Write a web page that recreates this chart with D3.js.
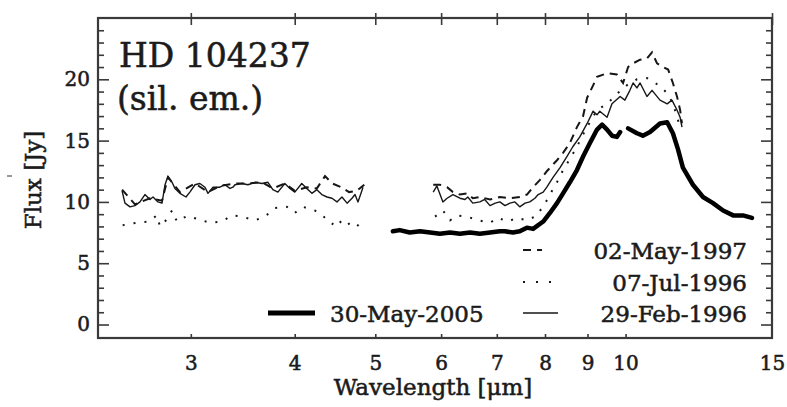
<!DOCTYPE html>
<html>
<head>
<meta charset="utf-8">
<script src="https://cdn.jsdelivr.net/npm/d3@7"></script>
<style>
  html, body { margin: 0; padding: 0; background: #fff; }
  svg { display: block; }
  text { font-family: "DejaVu Serif", "Liberation Serif", serif; fill: #1b1b1b; stroke: #1b1b1b; stroke-width: 0.55px; }
</style>
</head>
<body>
<svg id="chart" width="787" height="407"></svg>
<script>
// ---------------- data ----------------
const xTickValues = [3, 4, 5, 6, 7, 8, 9, 10, 15];
const xTickLabels = ["3", "4", "5", "6", "7", "8", "9", "10", "15"];
const yTickValues = [0, 5, 10, 15, 20];
const yTickLabels = ["0", "5", "10", "15", "20"];
const seriesNames = ["02-May-1997", "07-Jul-1996", "29-Feb-1996", "30-May-2005"];

// 29-Feb-1996 (thin solid); null = gap
const feb96Wl = [2.48, 2.50, 2.535, 2.57, 2.606, 2.642, 2.679, 2.702, 2.739, 2.77, 2.793, 2.816, 2.848, 2.871, 2.911, 2.96, 2.992, 3.035, 3.076, 3.12, 3.146, 3.19, 3.251, 3.297, 3.343, 3.371, 3.39, 3.456, 3.514, 3.583, 3.653, 3.714, 3.765, 3.818, 3.892, 3.947, 4.001, 4.079, 4.136, 4.195, 4.253, 4.312, 4.374, 4.435, 4.497, 4.559, 4.624, 4.688, 4.727, 4.766, 4.806, 4.833,
  5.3,
  5.87, 5.93, 6.03, 6.10, 6.20, 6.32, 6.41, 6.46, 6.55, 6.68, 6.77, 6.87, 6.97, 7.06, 7.16, 7.26, 7.36, 7.46, 7.57, 7.67, 7.78, 7.85, 7.96, 8.04, 8.18, 8.34, 8.50, 8.64, 8.81, 8.99, 9.14, 9.24, 9.31, 9.50, 9.63, 9.85, 9.98, 10.12, 10.21, 10.32, 10.41, 10.61, 10.76, 11.0, 11.22, 11.37, 11.53, 11.63, 11.69];
const feb96Flux = [10.9, 9.9, 9.6, 9.7, 10.0, 10.6, 10.2, 10.4, 10.0, 9.9, 11.4, 12.1, 11.6, 11.1, 10.7, 10.4, 10.8, 11.4, 11.5, 11.2, 10.7, 11.2, 11.2, 11.4, 11.1, 11.2, 11.4, 11.5, 11.4, 11.6, 11.5, 11.6, 11.0, 10.8, 11.5, 11.1, 10.8, 11.5, 11.1, 10.7, 11.0, 10.6, 10.4, 10.3, 10.0, 10.4, 9.9, 10.3, 10.6, 10.0, 10.7, 11.2,
  null,
  10.8, 11.3, 10.0, 10.3, 10.6, 10.3, 10.2, 10.4, 9.9, 10.0, 10.2, 9.7, 9.9, 10.0, 9.7, 9.9, 10.0, 9.6, 9.9, 10.0, 10.3, 10.6, 10.8, 11.2, 12.0, 12.8, 13.7, 14.5, 15.3, 16.4, 17.4, 17.1, 17.4, 16.9, 18.0, 18.6, 18.3, 19.1, 19.7, 19.3, 19.7, 18.6, 19.1, 18.3, 18.0, 18.3, 17.5, 16.9, 16.1];

// 07-Jul-1996 (dotted)
const jul96Wl = [2.484, 2.585, 2.665, 2.732, 2.754, 2.793, 2.848, 2.887, 2.968, 3.06, 3.163, 3.27, 3.362, 3.456, 3.583, 3.683, 3.786, 3.914, 4.001, 4.091, 4.229, 4.324, 4.36, 4.44, 4.50, 4.60, 4.69, 4.73, 4.83,
  5.3,
  5.90, 6.03, 6.15, 6.27, 6.45, 6.65, 6.87, 7.02, 7.22, 7.40, 7.61, 7.78, 7.96, 8.11, 8.27, 8.41, 8.57, 8.74, 8.89, 9.06, 9.24, 9.50, 9.76, 10.07, 10.32, 10.61, 10.91, 11.09, 11.25, 11.40, 11.53, 11.63];
const jul96Flux = [8.1, 8.3, 8.4, 8.9, 8.0, 8.4, 9.3, 8.4, 8.85, 8.6, 8.3, 8.4, 8.9, 8.8, 8.5, 8.8, 9.5, 9.6, 9.1, 9.6, 9.3, 8.9, 8.6, 8.2, 8.6, 8.0, 8.4, 8.3, 7.7,
  null,
  8.8, 9.3, 8.5, 8.9, 8.8, 8.5, 8.3, 8.7, 8.4, 8.7, 8.5, 8.8, 9.6, 10.6, 11.6, 12.6, 13.5, 14.5, 15.5, 16.5, 17.5, 18.0, 18.8, 19.6, 20.0, 20.1, 19.6, 19.2, 18.8, 18.0, 17.0, 16.0];

// 02-May-1997 (dashed)
const may97Wl = [2.48, 2.57, 2.679, 2.77, 2.816, 2.911, 3.035, 3.146, 3.251, 3.39, 3.514, 3.653, 3.765, 3.892, 4.001, 4.136, 4.253, 4.35, 4.44, 4.55, 4.65, 4.75, 4.85,
  5.3,
  5.87, 5.98, 6.10, 6.20, 6.32, 6.45, 6.55, 6.68, 6.87, 7.06, 7.26, 7.46, 7.61, 7.74, 7.89, 8.04, 8.27, 8.41, 8.57, 8.74, 8.89, 8.99, 9.14, 9.24, 9.50, 9.76, 9.93, 10.07, 10.21, 10.41, 10.61, 10.76, 10.91, 11.09, 11.25, 11.40, 11.53, 11.63, 11.69];
const may97Flux = [11.0, 9.8, 10.3, 10.1, 12.0, 10.8, 11.5, 10.8, 11.3, 11.5, 11.5, 11.6, 11.1, 11.5, 10.9, 11.2, 11.1, 12.1, 11.5, 11.2, 10.8, 10.9, 11.4,
  null,
  11.4, 11.4, 11.2, 10.8, 10.6, 10.7, 10.3, 10.4, 10.2, 10.4, 10.3, 10.4, 10.6, 11.2, 11.8, 12.5, 13.4, 14.0, 14.8, 16.1, 17.0, 18.5, 19.5, 20.2, 20.5, 20.4, 19.7, 21.0, 21.3, 21.6, 21.7, 22.2, 21.3, 21.0, 20.8, 19.7, 18.6, 17.5, 16.4];

// 30-May-2005 (thick solid)
const may05Wl = [5.25, 5.35, 5.50, 5.66, 5.82, 5.98, 6.15, 6.32, 6.50, 6.68, 6.87, 7.06, 7.16, 7.32, 7.46, 7.61, 7.74, 7.96, 8.11, 8.27, 8.41, 8.57, 8.74, 8.89, 9.06, 9.24, 9.37, 9.50, 9.63, 9.76, 9.85,
  9.95,
  10.07, 10.32, 10.49, 10.70, 11.00, 11.22, 11.40, 11.56, 11.72, 12.05, 12.39, 12.74, 13.10, 13.47, 13.84, 14.19];
const may05Flux = [7.6, 7.7, 7.5, 7.6, 7.5, 7.4, 7.5, 7.4, 7.5, 7.4, 7.5, 7.6, 7.6, 7.5, 7.6, 7.9, 7.8, 8.4, 9.1, 9.9, 10.7, 11.6, 12.6, 13.7, 14.8, 15.9, 16.3, 15.9, 15.4, 15.3, 15.7,
  null,
  16.0, 15.6, 15.4, 15.7, 16.4, 16.5, 15.6, 14.3, 12.8, 11.4, 10.4, 9.9, 9.3, 8.9, 8.9, 8.7];

// ---------------- chart ----------------
const svg = d3.select("#chart");
const x = d3.scaleLog().domain([2.32, 15]).range([98, 772]);
const y = d3.scaleLinear().domain([-1.1, 25]).range([338, 18]);
const plotLeft = x.range()[0], plotRight = x.range()[1];
const plotTop = y.range()[1], plotBottom = y.range()[0];
const ink = "#161616";

function toPoints(wl, fl) { return wl.map((w, i) => ({ w: w, f: fl[i] })); }
const line = d3.line().defined(d => d.f !== null).x(d => x(d.w)).y(d => y(d.f)).curve(d3.curveLinear);

// series
svg.append("path").datum(toPoints(jul96Wl, jul96Flux)).attr("d", line)
  .attr("fill", "none").attr("stroke", ink).attr("stroke-width", 2).attr("stroke-dasharray", "2,9");
svg.append("path").datum(toPoints(may97Wl, may97Flux)).attr("d", line)
  .attr("fill", "none").attr("stroke", ink).attr("stroke-width", 2).attr("stroke-dasharray", "8,6");
svg.append("path").datum(toPoints(feb96Wl, feb96Flux)).attr("d", line)
  .attr("fill", "none").attr("stroke", ink).attr("stroke-width", 1.4).attr("stroke-linejoin", "round");
svg.append("path").datum(toPoints(may05Wl, may05Flux)).attr("d", line)
  .attr("fill", "none").attr("stroke", "#000").attr("stroke-width", 4.5).attr("stroke-linejoin", "round").attr("stroke-linecap", "round");

// axes
const axisColor = "#3a3a3a";
const xLabelMap = new Map(xTickValues.map((v, i) => [v, xTickLabels[i]]));
const gx = svg.append("g").attr("transform", `translate(0,${plotBottom})`)
  .call(d3.axisBottom(x).tickValues(xTickValues).tickFormat(d => xLabelMap.get(d)).tickSizeInner(-4).tickSizeOuter(0).tickPadding(18));
const gxt = svg.append("g").attr("transform", `translate(0,${plotTop})`)
  .call(d3.axisTop(x).tickValues(xTickValues).tickFormat("").tickSizeInner(5).tickSizeOuter(0));

const yLabelMap = new Map(yTickValues.map((v, i) => [v, yTickLabels[i]]));
const gy = svg.append("g").attr("transform", `translate(${plotLeft},0)`)
  .call(d3.axisLeft(y).tickValues(yTickValues).tickFormat(d => yLabelMap.get(d)).tickSizeInner(-11).tickSizeOuter(0).tickPadding(8));
const gyr = svg.append("g").attr("transform", `translate(${plotRight},0)`)
  .call(d3.axisRight(y).tickValues(yTickValues).tickFormat("").tickSizeInner(-11).tickSizeOuter(0));
const minorY = d3.range(1, 25).filter(v => v % 5 !== 0);
svg.append("g").attr("transform", `translate(${plotLeft},0)`)
  .call(d3.axisLeft(y).tickValues(minorY).tickFormat("").tickSizeInner(-6).tickSizeOuter(0));
svg.append("g").attr("transform", `translate(${plotRight},0)`)
  .call(d3.axisRight(y).tickValues(minorY).tickFormat("").tickSizeInner(-6).tickSizeOuter(0));

svg.selectAll(".domain").remove();
svg.selectAll(".tick line").attr("stroke", axisColor).attr("stroke-width", 1.6);
gxt.selectAll(".tick line").attr("y1", -5).attr("y2", 7);
gx.selectAll(".tick text").attr("font-size", 20).attr("font-family", "DejaVu Serif").attr("fill", "#1b1b1b");
gy.selectAll(".tick text").attr("font-size", 20).attr("font-family", "DejaVu Serif").attr("fill", "#1b1b1b");
gx.selectAll(".tick").filter(d => d === 15).select("line").remove();

// frame
svg.append("rect").attr("x", plotLeft).attr("y", plotTop).attr("width", plotRight - plotLeft).attr("height", plotBottom - plotTop)
  .attr("fill", "none").attr("stroke", axisColor).attr("stroke-width", 2.2);

// axis titles
svg.append("text").attr("x", 433).attr("y", 395).attr("text-anchor", "middle")
  .attr("font-size", 23).text("Wavelength [\u03bcm]");
svg.append("text").attr("transform", "translate(41,180) rotate(-90)").attr("text-anchor", "middle")
  .attr("font-size", 23).text("Flux [Jy]");

// stray mark
svg.append("line").attr("x1", 7).attr("x2", 12).attr("y1", 176).attr("y2", 176).attr("stroke", "#555").attr("stroke-width", 1.2);

// title
svg.append("text").attr("x", 119).attr("y", 67).attr("font-size", 33).text("HD 104237");
svg.append("text").attr("x", 117).attr("y", 110).attr("font-size", 33).text("(sil. em.)");

// legend
const lg = svg.append("g");
const legendRows = [
  { name: seriesNames[0], y: 250, dash: "8,6", w: 2, x2: 542 },
  { name: seriesNames[1], y: 282, dash: "2,11", w: 2, x2: 556 },
  { name: seriesNames[2], y: 313, dash: null, w: 1.4, x2: 558 }
];
legendRows.forEach(r => {
  const l = lg.append("line").attr("x1", 523).attr("x2", r.x2)
    .attr("y1", r.y).attr("y2", r.y).attr("stroke", ink).attr("stroke-width", r.w);
  if (r.dash) l.attr("stroke-dasharray", r.dash);
  lg.append("text").attr("x", 747).attr("y", r.y + 9).attr("text-anchor", "end").attr("font-size", 23).text(r.name);
});
lg.append("line").attr("x1", 268).attr("x2", 315).attr("y1", 313).attr("y2", 313).attr("stroke", "#000").attr("stroke-width", 5);
lg.append("text").attr("x", 330).attr("y", 322).attr("font-size", 23).text(seriesNames[3]);
</script>
</body>
</html>
